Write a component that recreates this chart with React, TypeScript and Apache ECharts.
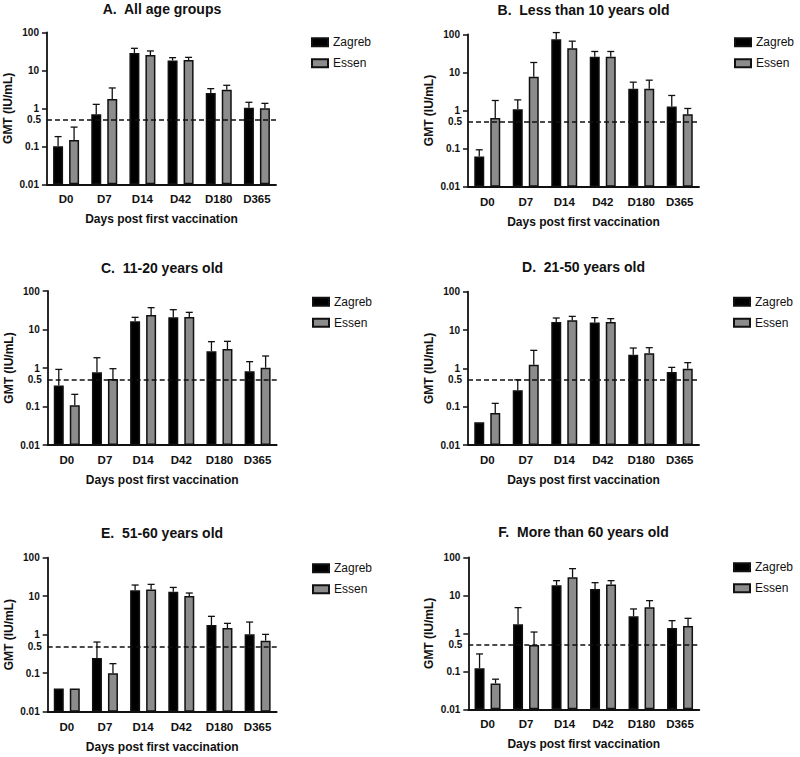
import React, { useEffect, useRef } from "react";
import * as echarts from "echarts";

const categories = ["D0", "D7", "D14", "D42", "D180", "D365"];
const seriesNames = ["Zagreb", "Essen"];
const thresholdValue = 0.5;
const xAxisTitle = "Days post first vaccination";
const yAxisTitle = "GMT (IU/mL)";

const panelTitles = [
  "A.  All age groups",
  "B.  Less than 10 years old",
  "C.  11-20 years old",
  "D.  21-50 years old",
  "E.  51-60 years old",
  "F.  More than 60 years old",
];

// GMT (bar heights) and upper error limits, per panel
const zagrebA = [0.1, 0.7, 28.6, 18.0, 2.53, 1.04];
const zagrebAUpper = [0.18, 1.27, 37.9, 21.5, 3.29, 1.44];
const essenA = [0.147, 1.76, 25.3, 18.7, 3.1, 1.0];
const essenAUpper = [0.32, 3.43, 32.3, 21.9, 4.03, 1.35];

const zagrebB = [0.062, 1.08, 74.5, 25.6, 3.7, 1.27];
const zagrebBUpper = [0.093, 1.9, 111, 35.4, 5.54, 2.48];
const essenB = [0.64, 7.65, 43.3, 25.6, 3.7, 0.8];
const essenBUpper = [1.83, 18.2, 66, 35.4, 6.25, 1.13];

const zagrebC = [0.35, 0.77, 16.3, 20.7, 2.71, 0.82];
const zagrebCUpper = [0.92, 1.85, 20.7, 32.7, 4.83, 1.46];
const essenC = [0.107, 0.52, 23.8, 21.1, 3.12, 1.02];
const essenCUpper = [0.207, 0.96, 36.9, 27.9, 4.93, 2.05];

const zagrebD = [0.039, 0.27, 16.2, 15.8, 2.27, 0.8];
const zagrebDUpper = [null, 0.5, 20.6, 21.0, 3.39, 1.06];
const essenD = [0.068, 1.25, 17.9, 16.2, 2.46, 0.98];
const essenDUpper = [0.122, 2.95, 22.7, 19.8, 3.46, 1.41];

const zagrebE = [0.04, 0.25, 14.2, 13.1, 1.78, 1.02];
const zagrebEUpper = [null, 0.645, 19.5, 16.9, 3.0, 2.13];
const essenE = [0.04, 0.099, 15.0, 10.1, 1.49, 0.7];
const essenEUpper = [null, 0.177, 20.3, 12.1, 1.97, 1.02];

const zagrebF = [0.12, 1.73, 18.3, 14.7, 2.8, 1.38];
const zagrebFUpper = [0.286, 4.74, 24.3, 21.5, 4.37, 2.15];
const essenF = [0.048, 0.49, 29.8, 19.1, 4.83, 1.56];
const essenFUpper = [0.062, 1.08, 50.3, 24.3, 7.24, 2.48];

const panelData = [
  [zagrebA, zagrebAUpper, essenA, essenAUpper],
  [zagrebB, zagrebBUpper, essenB, essenBUpper],
  [zagrebC, zagrebCUpper, essenC, essenCUpper],
  [zagrebD, zagrebDUpper, essenD, essenDUpper],
  [zagrebE, zagrebEUpper, essenE, essenEUpper],
  [zagrebF, zagrebFUpper, essenF, essenFUpper],
];

// layout (positions only)
const layouts = [
  { left: 47, top: 32.3, width: 229, height: 152, titleX: 162, titleY: 8.5, legX: 311, legY: 42.3 },
  { left: 468, top: 34.3, width: 231, height: 152.4, titleX: 583.5, titleY: 10, legX: 734, legY: 42.3 },
  { left: 47.7, top: 291, width: 229, height: 154, titleX: 162, titleY: 268.3, legX: 312, legY: 301.7 },
  { left: 468, top: 291.7, width: 231, height: 153.3, titleX: 583.5, titleY: 267.3, legX: 733, legY: 301.7 },
  { left: 47.7, top: 557.7, width: 229, height: 154, titleX: 162, titleY: 533.3, legX: 312, legY: 568.3 },
  { left: 468.3, top: 557.3, width: 231, height: 152, titleX: 583.5, titleY: 532.3, legX: 733, legY: 567.3 },
];

const FONT = "'Liberation Sans', Arial, sans-serif";
const INK = "#111";
const BAR_W = 10;
const BAR_OFFSET = 8;

function errorSeries(idx: number, means: number[], uppers: (number | null)[], offset: number) {
  return {
    type: "custom",
    xAxisIndex: idx,
    yAxisIndex: idx,
    silent: true,
    z: 5,
    encode: { x: 0, y: [1, 2] },
    renderItem: (params: any, api: any) => {
      const i = api.value(0);
      const m = api.value(1);
      const u = api.value(2);
      if (!(u > 0)) return null;
      const p1 = api.coord([i, m]);
      const p2 = api.coord([i, u]);
      const x = p1[0] + offset;
      return {
        type: "group",
        children: [
          { type: "line", shape: { x1: x, y1: p1[1], x2: x, y2: p2[1] }, style: { stroke: INK, lineWidth: 1.3 } },
          { type: "line", shape: { x1: x - 3.5, y1: p2[1], x2: x + 3.5, y2: p2[1] }, style: { stroke: INK, lineWidth: 1.3 } },
        ],
      };
    },
    data: means.map((m, i) => [i, m, uppers[i] == null ? "-" : uppers[i]]),
  };
}

function fmt(v: number) {
  return String(Number(Number(v).toPrecision(3)));
}

export default function App() {
  const ref = useRef<HTMLDivElement>(null);
  useEffect(() => {
    if (!ref.current) return;
    const chart = echarts.init(ref.current, undefined, { renderer: "svg" });
    const grids: any[] = [];
    const xAxes: any[] = [];
    const yAxes: any[] = [];
    const series: any[] = [];
    const legends: any[] = [];
    const graphics: any[] = [];

    layouts.forEach((L, idx) => {
      grids.push({ left: L.left, top: L.top, width: L.width, height: L.height, containLabel: false });
      xAxes.push({
        type: "category",
        gridIndex: idx,
        data: categories,
        name: xAxisTitle,
        nameLocation: "middle",
        nameGap: 29,
        nameTextStyle: { fontFamily: FONT, fontWeight: "bold", fontSize: 12, color: INK },
        axisLine: { lineStyle: { color: INK, width: 1.8 } },
        axisTick: { alignWithLabel: true, length: 5, lineStyle: { color: INK, width: 1.5 } },
        axisLabel: { fontFamily: FONT, fontWeight: "bold", fontSize: 11.5, color: INK, margin: 9 },
        splitLine: { show: false },
      });
      yAxes.push({
        type: "log",
        gridIndex: idx,
        logBase: 10,
        min: 0.01,
        max: 100,
        startValue: 0.01,
        name: yAxisTitle,
        nameLocation: "middle",
        nameGap: 33,
        nameTextStyle: { fontFamily: FONT, fontWeight: "bold", fontSize: 12, color: INK },
        axisLine: { show: true, lineStyle: { color: INK, width: 1.8 } },
        axisTick: { show: true, length: 5, lineStyle: { color: INK, width: 1.5 } },
        axisLabel: { fontFamily: FONT, fontWeight: "bold", fontSize: 10, color: INK, margin: 8, formatter: fmt },
        splitLine: { show: false },
        minorTick: { show: false },
      });
      const [zm, zu, em, eu] = panelData[idx] as any;
      series.push({
        name: seriesNames[0],
        type: "bar",
        xAxisIndex: idx,
        yAxisIndex: idx,
        barWidth: BAR_W,
        barGap: "60%",
        itemStyle: { color: "#000", borderColor: INK, borderWidth: 1.5 },
        data: zm,
        markLine: {
          silent: true,
          symbol: ["none", "none"],
          lineStyle: { color: INK, type: [5, 3], width: 1.5 },
          label: {
            show: true,
            position: "start",
            formatter: String(thresholdValue),
            fontFamily: FONT,
            fontWeight: "bold",
            fontSize: 10,
            color: INK,
            distance: 6,
          },
          data: [{ yAxis: thresholdValue }],
        },
      });
      series.push({
        name: seriesNames[1],
        type: "bar",
        xAxisIndex: idx,
        yAxisIndex: idx,
        barWidth: BAR_W,
        barGap: "60%",
        itemStyle: { color: "#8c8c8c", borderColor: INK, borderWidth: 1.5 },
        data: em,
      });
      series.push(errorSeries(idx, zm, zu, -BAR_OFFSET));
      series.push(errorSeries(idx, em, eu, BAR_OFFSET));
      legends.push({
        data: seriesNames,
        orient: "vertical",
        left: L.legX,
        top: L.legY - 6,
        padding: 0,
        itemWidth: 16,
        itemHeight: 8,
        itemGap: 9,
        icon: "rect",
        selectedMode: false,
        textStyle: { fontFamily: FONT, fontSize: 12, color: INK },
      });
      graphics.push({
        type: "text",
        x: L.titleX,
        y: L.titleY,
        style: {
          text: panelTitles[idx],
          fontFamily: FONT,
          fontWeight: "bold",
          fontSize: 14,
          fill: INK,
          textAlign: "center",
          textVerticalAlign: "middle",
        },
      });
    });

    chart.setOption({
      animation: false,
      backgroundColor: "#fff",
      grid: grids,
      xAxis: xAxes,
      yAxis: yAxes,
      legend: legends,
      series,
      graphic: graphics,
    });
    return () => chart.dispose();
  }, []);
  return <div ref={ref} style={{ position: "absolute", left: 0, top: 0, width: 800, height: 757 }} />;
}
